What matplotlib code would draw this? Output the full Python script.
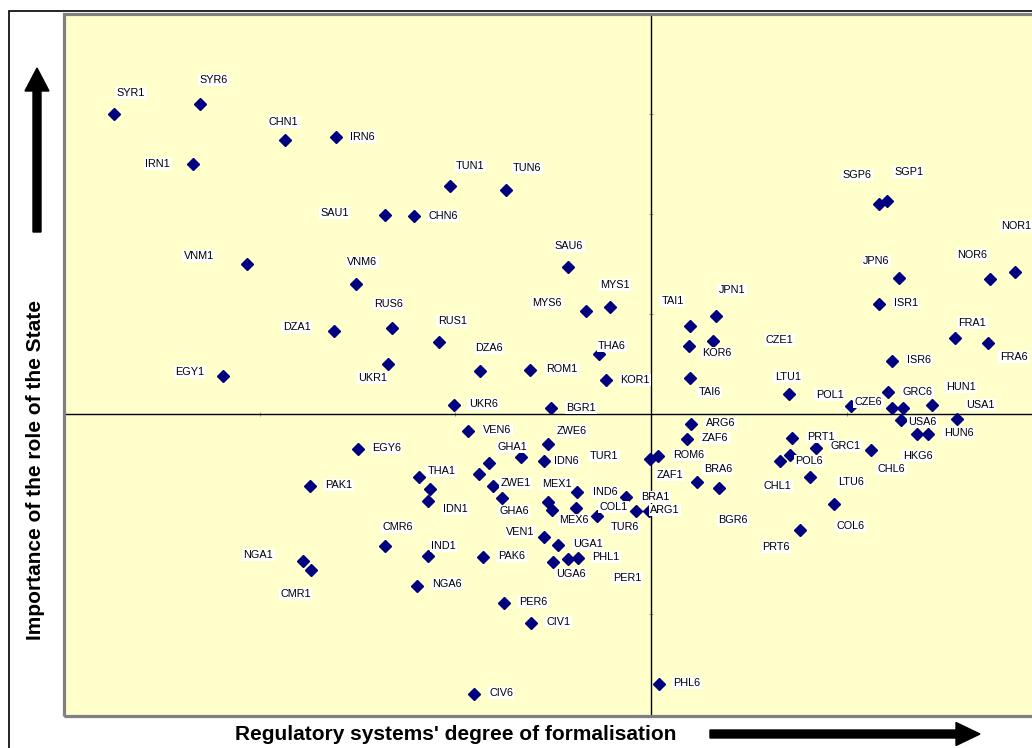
import matplotlib
matplotlib.use('Agg')
import matplotlib.pyplot as plt
from matplotlib.patches import Rectangle, FancyArrow
from matplotlib.transforms import IdentityTransform

plt.rcParams['font.family'] = ['Liberation Sans', 'DejaVu Sans']

# ============================================================
# data: formalisation (x) vs role of the State (y)
# ============================================================
codes = ['SYR1', 'SYR6', 'CHN1', 'IRN6', 'IRN1', 'TUN1', 'TUN6', 'SAU1', 'CHN6', 'SAU6',
         'VNM1', 'VNM6', 'MYS1', 'MYS6', 'DZA1', 'RUS6', 'RUS1', 'DZA6', 'ROM1', 'THA6',
         'KOR1', 'UKR1', 'EGY1', 'UKR6', 'BGR1',
         'SGP6', 'SGP1', 'NOR1', 'NOR6', 'JPN6', 'ISR1', 'JPN1', 'TAI1', 'CZE1', 'KOR6',
         'TAI6', 'ISR6', 'FRA1', 'FRA6', 'LTU1', 'POL1', 'CZE6', 'HKG1', 'GRC6', 'HUN1',
         'USA1', 'USA6', 'HKG6', 'HUN6', 'CHL6', 'ARG6', 'ZAF6', 'ZAF1', 'ROM6', 'BRA6',
         'BGR6', 'PRT1', 'GRC1', 'POL6', 'CHL1', 'LTU6', 'COL6', 'PRT6', 'PHL6', 'ARG1',
         'BRA1',
         'VEN6', 'ZWE6', 'EGY6', 'GHA1', 'IDN6', 'THA1', 'PAK1', 'ZWE1', 'MEX1', 'IND6',
         'IDN1', 'GHA6', 'TUR1', 'MEX6', 'COL1', 'TUR6', 'CMR6', 'VEN1', 'UGA1', 'IND1',
         'PAK6', 'UGA6', 'PHL1', 'PER1', 'NGA6', 'PER6', 'CIV1', 'CIV6', 'NGA1', 'CMR1']

x_form = [-1.372, -1.153, -0.936, -0.806, -1.171, -0.513, -0.370, -0.681, -0.605, -0.212,
          -1.033, -0.753, -0.105, -0.166, -0.811, -0.661, -0.541, -0.436, -0.309, -0.133,
          -0.115, -0.671, -1.094, -0.503, -0.255,
          0.582, 0.602, 0.931, 0.867, 0.635, 0.582, 0.166, 0.099, 0.158, 0.097,
          0.099, 0.617, 0.778, 0.860, 0.352, 0.510, 0.617, 0.643, 0.605, 0.717,
          0.781, 0.640, 0.681, 0.709, 0.561, 0.102, 0.092, -0.003, 0.018, 0.117,
          0.173, 0.360, 0.421, 0.355, 0.329, 0.406, 0.467, 0.380, 0.020, -0.005,
          -0.038,
          -0.467, -0.263, -0.750, -0.332, -0.273, -0.594, -0.872, -0.403, -0.189, -0.064,
          -0.569, -0.380, -0.263, -0.253, -0.191, -0.138, -0.679, -0.273, -0.237, -0.569,
          -0.429, -0.250, -0.212, -0.186, -0.597, -0.375, -0.306, -0.452, -0.888, -0.870]

y_state = [1.500, 1.550, 1.370, 1.385, 1.250, 1.140, 1.120, 0.995, 0.990, 0.735,
           0.750, 0.650, 0.535, 0.515, 0.415, 0.430, 0.360, 0.215, 0.220, 0.300,
           0.170, 0.250, 0.190, 0.045, 0.030,
           1.050, 1.065, 0.710, 0.675, 0.680, 0.550, 0.490, 0.440, 0.365, 0.340,
           0.180, 0.265, 0.380, 0.355, 0.100, 0.040, 0.030, 0.030, 0.110, 0.045,
           -0.025, -0.030, -0.100, -0.100, -0.180, -0.050, -0.125, -0.225, -0.210, -0.340,
           -0.370, -0.120, -0.170, -0.205, -0.235, -0.315, -0.450, -0.580, -1.350, -0.485,
           -0.485,
           -0.085, -0.150, -0.175, -0.215, -0.235, -0.315, -0.360, -0.360, -0.390, -0.415,
           -0.435, -0.420, -0.440, -0.480, -0.470, -0.510, -0.660, -0.615, -0.655, -0.710,
           -0.715, -0.740, -0.725, -0.720, -0.860, -0.945, -1.045, -1.400, -0.735, -0.780]

# points drawn without a label
extra_x = [-0.413, -0.439, -0.564]
extra_y = [-0.245, -0.300, -0.375]

# label placement (pixel offsets from the marker), layout only
label_offset = {
    'SYR1': (17, 21), 'SYR6': (14, 24), 'CHN1': (-1, 18), 'IRN6': (27, 0), 'IRN1': (-35, 0),
    'TUN1': (20, 20), 'TUN6': (21, 22), 'SAU1': (-50, 2), 'CHN6': (29, 0), 'SAU6': (1, 21),
    'VNM1': (-48, 8), 'VNM6': (6, 22), 'MYS1': (5, 22), 'MYS6': (-39, 8), 'DZA1': (-37, 4),
    'RUS6': (-4, 24), 'RUS1': (13, 21), 'DZA6': (9, 23), 'ROM1': (32, 1), 'THA6': (13, 8),
    'KOR1': (29, 0), 'UKR1': (-16, -14), 'EGY1': (-33, 4), 'UKR6': (29, 1), 'BGR1': (30, 0),
    'SGP6': (-22, 29), 'SGP1': (22, 29), 'NOR1': (1, 46), 'NOR6': (-18, 24), 'JPN6': (-23, 17),
    'ISR1': (27, 1), 'JPN1': (16, 26), 'TAI1': (-17, 25), 'CZE1': (67, 1), 'KOR6': (28, -7),
    'TAI6': (20, -14), 'ISR6': (27, 1), 'FRA1': (17, 15), 'FRA6': (26, -14), 'LTU1': (-1, 17),
    'POL1': (-21, 11), 'CZE6': (-24, 6), 'GRC6': (30, 0), 'HUN1': (29, 18), 'USA1': (24, 14),
    'USA6': (21, -2), 'HKG6': (0, -22), 'HUN6': (30, 1), 'CHL6': (21, -19), 'ARG6': (30, 1),
    'ZAF6': (28, 1), 'ZAF1': (20, -16), 'ROM6': (31, 1), 'BRA6': (21, 13), 'BGR6': (14, -32),
    'PRT1': (29, 1), 'GRC1': (30, 2), 'POL6': (19, -6), 'CHL1': (-2, -25), 'LTU6': (41, -5),
    'COL6': (17, -22), 'PRT6': (-24, -17), 'PHL6': (28, 1), 'ARG1': (16, 1), 'BRA1': (19, 14),
    'VEN6': (29, 1), 'ZWE6': (24, 13), 'EGY6': (29, 1), 'GHA1': (-9, 10), 'IDN6': (22, 0),
    'THA1': (23, 6), 'PAK1': (29, 1), 'ZWE1': (22, 3), 'MEX1': (-20, 8), 'IND6': (-21, 5),
    'IDN1': (27, -8), 'GHA6': (12, -13), 'TUR1': (56, 46), 'MEX6': (22, -10), 'COL1': (37, 1),
    'TUR6': (28, -11), 'CMR6': (12, 19), 'VEN1': (-24, 5), 'UGA1': (30, 1), 'IND1': (15, 10),
    'PAK6': (29, 1), 'UGA6': (18, -12), 'PHL1': (38, 2), 'PER1': (49, -20), 'NGA6': (30, 2),
    'PER6': (29, 1), 'CIV1': (27, 1), 'CIV6': (27, 1), 'NGA1': (-45, 6), 'CMR1': (-15, -24),
}

# ============================================================
# figure
# ============================================================
W, H = 1032, 748
fig = plt.figure(figsize=(W / 100, H / 100), dpi=100)
fig.patch.set_facecolor('white')

# outer black frame
fig.add_artist(Rectangle((8.5, -5), 1100, H - 10.5 + 5, transform=IdentityTransform(),
                         fill=False, edgecolor='black', linewidth=1.2))

# plot area: x -1.5..1.5 spans px 64..1238, y -1.51..2.0 spans px 716..14
ax = fig.add_axes([64 / W, (H - 716) / H, 1174 / W, 702 / H])
ax.set_facecolor('#FFFFCC')
ax.set_xlim(-1.5, 1.5)
ax.set_ylim(-1.51, 2.0)

for s in ['top', 'right']:
    ax.spines[s].set_visible(False)
ax.spines['left'].set_position(('data', 0))
ax.spines['bottom'].set_position(('data', 0))
ax.spines['left'].set_linewidth(1.0)
ax.spines['bottom'].set_linewidth(1.0)
ax.set_xticks([-1, -0.5, 0.5, 1])
ax.set_yticks([-1, -0.5, 0.5, 1, 1.5])
ax.tick_params(length=3, width=0.8, color='#999999', labelbottom=False, labelleft=False,
               direction='inout')

ax.add_patch(Rectangle((0, 0), 1, 1, transform=ax.transAxes, fill=False,
                       edgecolor='#808080', linewidth=2.3, clip_on=False, zorder=5))

ax.plot(x_form, y_state, linestyle='none', marker='D', markersize=6.3,
        color='#000080', zorder=3)
ax.plot(extra_x, extra_y, linestyle='none', marker='D', markersize=6.3,
        color='#000080', zorder=3)

for c, x, y in zip(codes, x_form, y_state):
    if c not in label_offset:
        continue
    dx, dy = label_offset[c]
    ax.annotate(c, (x, y), xytext=(dx, dy), textcoords='offset pixels',
                ha='center', va='center', fontsize=7.8, color='black', zorder=4,
                bbox=dict(boxstyle='square,pad=0.12', fc='white', ec='none'))

# axis titles and arrows
fig.text(36 / W, 1 - 470 / H, 'Importance of the role of the State', rotation=90,
         ha='center', va='center', fontsize=15, fontweight='bold')
fig.text(456 / W, 1 - 734 / H, "Regulatory systems' degree of formalisation",
         ha='center', va='center', fontsize=15, fontweight='bold')

fig.add_artist(FancyArrow(37, H - 232, 0, 232 - 68, width=8, head_width=24,
                          head_length=23, length_includes_head=True,
                          transform=IdentityTransform(), color='black'))
fig.add_artist(FancyArrow(710, H - 734, 980 - 710, 0, width=8, head_width=23,
                          head_length=24, length_includes_head=True,
                          transform=IdentityTransform(), color='black'))

plt.savefig('out.png', dpi=100)
